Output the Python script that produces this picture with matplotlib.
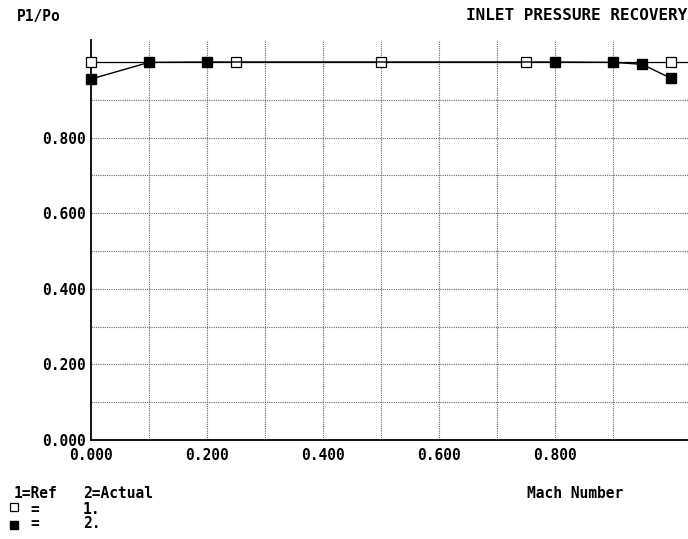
import matplotlib.pyplot as plt

# Reference curve (open squares)
ref_mach = [0.0, 0.25, 0.50, 0.75, 1.0]
ref_p1po = [1.0, 1.0, 1.0, 1.0, 1.0]

# Actual curve (filled squares)
act_mach = [0.0, 0.10, 0.20, 0.80, 0.90, 0.95, 1.0]
act_p1po = [0.955, 0.999, 1.0, 1.0, 0.999, 0.994, 0.957]

x_ticks = [0.0, 0.2, 0.4, 0.6, 0.8]
y_ticks = [0.0, 0.2, 0.4, 0.6, 0.8]

FONT = dict(family='DejaVu Sans Mono', fontweight='bold', fontsize=10.5)

fig = plt.figure(figsize=(6.88, 5.39), dpi=100)
ax = fig.add_axes([91 / 688, 99 / 539, 597 / 688, 400 / 539])

ax.plot([0.0, 1.03], [ref_p1po[0], ref_p1po[-1]], color='black', lw=0.9, zorder=3)
ax.plot(ref_mach, ref_p1po, ls='none', marker='s', ms=6.5, mfc='white', mec='black',
        mew=0.9, zorder=4, clip_on=False)
ax.plot(act_mach, act_p1po, color='black', lw=1.0, marker='s', ms=6.5, mfc='black',
        mec='black', zorder=5, clip_on=False)

ax.set_xlim(0, 597 / 580)
ax.set_ylim(0, 400 / 378)
ax.set_xticks(x_ticks)
ax.set_yticks(y_ticks)
ax.set_xticklabels(['%.3f' % v for v in x_ticks], **FONT)
ax.set_yticklabels(['%.3f' % v for v in y_ticks], **FONT)
ax.tick_params(which='both', length=0, pad=6)
ax.tick_params(axis='y', pad=4)

# dotted grid, only 0.1..0.9
for v in [i / 10 for i in range(1, 10)]:
    ax.axvline(v, color='#666666', lw=0.8, ls=(0, (1, 1)), zorder=1)
    ax.axhline(v, color='#666666', lw=0.8, ls=(0, (1, 1)), zorder=1)

for s in ['top', 'right']:
    ax.spines[s].set_visible(False)
ax.spines['left'].set_linewidth(1.3)
ax.spines['bottom'].set_linewidth(1.3)

fig.text(17 / 688, 1 - 16 / 539, 'P1/Po', va='center', ha='left', **FONT)
fig.text(687 / 688, 1 - 16 / 539, 'INLET PRESSURE RECOVERY', va='center', ha='right',
         family='DejaVu Sans Mono', fontweight='bold', fontsize=11.5)
fig.text(575 / 688, 1 - 494 / 539, 'Mach Number', va='center', ha='center', **FONT)

fig.text(14 / 688, 1 - 493 / 539, '1=Ref', va='center', ha='left', **FONT)
fig.text(83 / 688, 1 - 493 / 539, '2=Actual', va='center', ha='left', **FONT)
fig.text(30 / 688, 1 - 509 / 539, '=', va='center', ha='left', **FONT)
fig.text(83 / 688, 1 - 509 / 539, '1.', va='center', ha='left', **FONT)
fig.text(30 / 688, 1 - 524 / 539, '=', va='center', ha='left', **FONT)
fig.text(83 / 688, 1 - 524 / 539, '2.', va='center', ha='left', **FONT)
fig.lines.append(plt.Line2D([14 / 688], [1 - 507 / 539], transform=fig.transFigure,
                            marker='s', ms=5.5, mfc='white', mec='black', mew=0.9, ls='none'))
fig.lines.append(plt.Line2D([14 / 688], [1 - 525 / 539], transform=fig.transFigure,
                            marker='s', ms=5.5, mfc='black', mec='black', ls='none'))

fig.savefig('out.png', dpi=100)
